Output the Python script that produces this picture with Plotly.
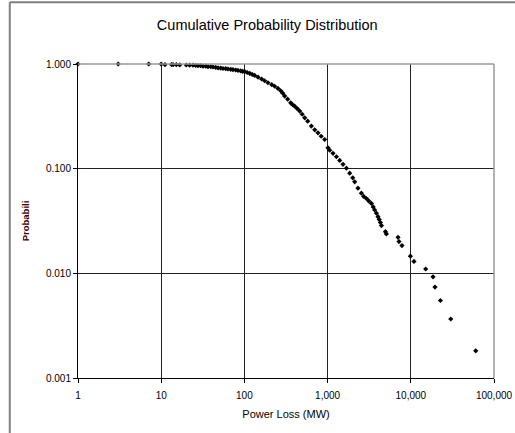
import plotly.graph_objects as go

power_loss_mw = [
    1.0, 3.04, 7.08, 10.0, 11.1, 13.3, 13.9, 15.2, 16.7, 20.0,
    22.0, 24.1, 26.0, 27.7, 29.8, 31.8, 34.3, 36.5, 39.4, 42.0,
    45.2, 48.2, 51.9, 55.3, 59.6, 63.5, 68.4, 72.9, 78.6, 83.8,
    90.3, 95.4, 100.9, 108, 116, 124, 133, 146, 161, 175,
    192, 213, 231, 253, 273, 289, 305, 331, 360, 380,
    402, 431, 462, 495, 531, 577, 638, 700, 767, 838,
    923, 1011, 1060, 1161, 1276, 1397, 1531, 1683, 1844, 2004,
    2118, 2318, 2547, 2716, 2927, 3120, 3360, 3533, 3680, 3864,
    4036, 4170, 4315, 4436, 4955, 5090, 7020, 7210, 7830, 9890,
    10920, 15100, 18500, 19540, 22700, 30200, 60300,
]
probability = [
    1.000, 1.000, 1.000, 0.998, 0.985, 0.989, 0.985, 0.985, 0.980, 0.978,
    0.974, 0.974, 0.970, 0.963, 0.963, 0.953, 0.953, 0.942, 0.942, 0.936,
    0.928, 0.918, 0.914, 0.906, 0.902, 0.896, 0.890, 0.882, 0.876, 0.869,
    0.859, 0.851, 0.844, 0.829, 0.813, 0.795, 0.778, 0.748, 0.719, 0.692,
    0.662, 0.634, 0.613, 0.584, 0.555, 0.526, 0.494, 0.461, 0.426, 0.408,
    0.395, 0.375, 0.355, 0.331, 0.306, 0.284, 0.255, 0.235, 0.220, 0.204,
    0.190, 0.158, 0.150, 0.140, 0.130, 0.120, 0.110, 0.101, 0.0906, 0.0817,
    0.0748, 0.0651, 0.0583, 0.0543, 0.0519, 0.0492, 0.0466, 0.0431, 0.0403, 0.0375,
    0.0348, 0.0327, 0.0306, 0.0286, 0.0250, 0.0238, 0.0221, 0.0201, 0.0184, 0.0146,
    0.0130, 0.0110, 0.00927, 0.00739, 0.00550, 0.00366, 0.00182,
]

x_tick_vals = [1, 10, 100, 1000, 10000, 100000]
x_tick_text = ["1", "10", "100", "1,000", "10,000", "100,000"]
y_tick_vals = [0.001, 0.01, 0.1, 1]
y_tick_text = ["0.001", "0.010", "0.100", "1.000"]

FONT = "Liberation Sans, Arial, sans-serif"

fig = go.Figure()
fig.add_trace(go.Scatter(
    x=power_loss_mw, y=probability, mode="markers", cliponaxis=False,
    marker=dict(symbol="diamond", size=4, color="black", line=dict(width=0)),
    showlegend=False,
))

fig.update_layout(
    width=515, height=433,
    margin=dict(l=78, r=21, t=64, b=55, autoexpand=False),
    paper_bgcolor="white", plot_bgcolor="white",
    font=dict(family=FONT, size=10, color="black"),
    title=dict(text="Cumulative Probability Distribution",
               x=0.519, xref="container", xanchor="center",
               y=0.942, yref="container", yanchor="middle",
               font=dict(family=FONT, size=14.5, color="black")),
    xaxis=dict(type="log", range=[0, 5], tickvals=x_tick_vals, ticktext=x_tick_text,
               automargin=False,
               showgrid=True, gridcolor="#222222", gridwidth=1,
               showline=True, linecolor="black", linewidth=1, mirror=False,
               ticks="outside", ticklen=4, tickcolor="black", ticklabelstandoff=4,
               title=dict(text="Power Loss (MW)", standoff=10,
                          font=dict(family=FONT, size=11, color="black")),
               zeroline=False),
    yaxis=dict(type="log", range=[-3, 0], tickvals=y_tick_vals, ticktext=y_tick_text,
               automargin=False,
               showgrid=True, gridcolor="#222222", gridwidth=1,
               showline=True, linecolor="black", linewidth=1,
               ticks="outside", ticklen=4, tickcolor="black",
               title=dict(text="<b>Probabili</b>", standoff=14,
                          font=dict(family=FONT, size=9.5, color="#3a0000")),
               zeroline=False),
    shapes=[
        dict(type="line", xref="paper", yref="paper", x0=0, x1=1, y0=1, y1=1,
             line=dict(color="#9a9a9a", width=1.5)),
        dict(type="line", xref="paper", yref="paper", x0=1, x1=1, y0=0, y1=1,
             line=dict(color="#9a9a9a", width=1.5)),
        dict(type="line", xref="paper", yref="paper", x0=-0.164, x1=-0.164, y0=-0.2, y1=1.197,
             line=dict(color="#808080", width=2)),
        dict(type="line", xref="paper", yref="paper", x0=-0.164, x1=1.1, y0=1.197, y1=1.197,
             line=dict(color="#808080", width=2)),
    ],
)

fig.write_html("out.html", config={"displayModeBar": False},
               post_script="document.body.style.margin='0';")
